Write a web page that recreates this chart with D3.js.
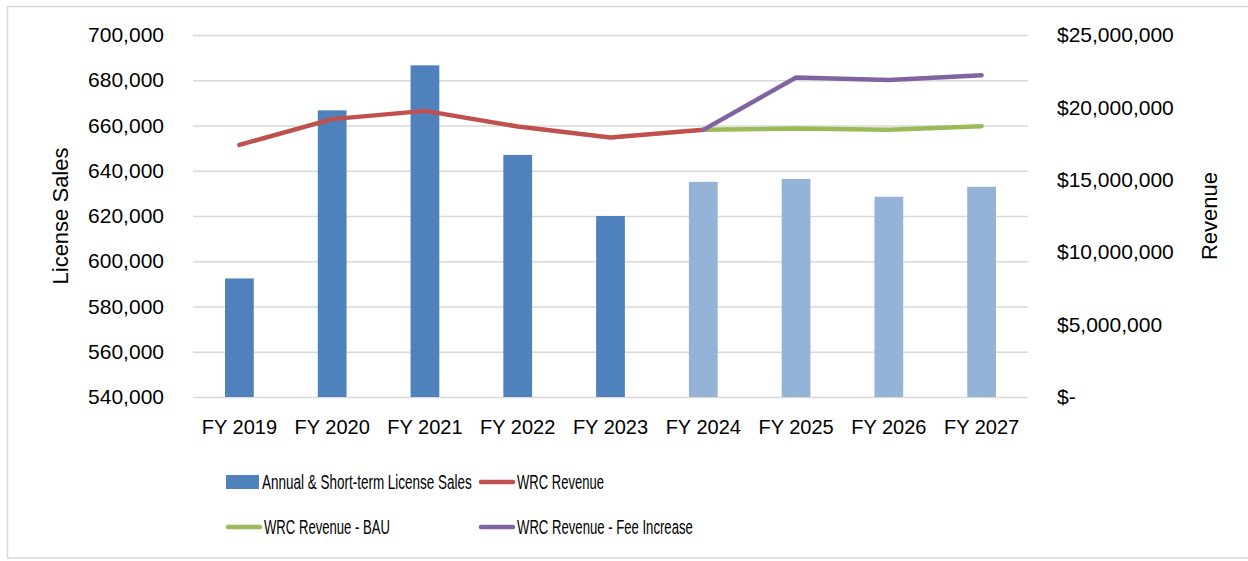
<!DOCTYPE html>
<html>
<head>
<meta charset="utf-8">
<script src="https://cdn.jsdelivr.net/npm/d3@7"></script>
<style>
  body { margin: 0; background: #fff; }
  svg { display: block; font-family: "Liberation Sans", Arial, sans-serif; }
</style>
</head>
<body>
<div id="chart"></div>
<script>
// Data
const years = ["FY 2019", "FY 2020", "FY 2021", "FY 2022", "FY 2023", "FY 2024", "FY 2025", "FY 2026", "FY 2027"];
const licenseSales = [592400, 666700, 686600, 647000, 620000, 635100, 636400, 628500, 632900];
const projected = [false, false, false, false, false, true, true, true, true];

const wrcYears = ["FY 2019", "FY 2020", "FY 2021", "FY 2022", "FY 2023", "FY 2024"];
const wrcRevenue = [17410000, 19190000, 19760000, 18680000, 17920000, 18450000];

const scenarioYears = ["FY 2024", "FY 2025", "FY 2026", "FY 2027"];
const bauRevenue = [18450000, 18540000, 18450000, 18700000];
const feeRevenue = [18450000, 22060000, 21900000, 22220000];

const leftTicks = [540000, 560000, 580000, 600000, 620000, 640000, 660000, 680000, 700000];
const rightTicks = [0, 5000000, 10000000, 15000000, 20000000, 25000000];

const colors = {
    bar: "#4F81BD",
    barLight: "#95B3D7",
    wrc: "#C0504D",
    bau: "#9BBB59",
    fee: "#8064A2",
    grid: "#D9D9D9"
};

const W = 1248, H = 561;
const margin = {top: 35, right: 220, bottom: 164, left: 193};
const width = 1028 - margin.left,
    height = 397 - margin.top;

const svg = d3.select("#chart")
    .append("svg")
    .attr("width", W)
    .attr("height", H);

// outer chart border
svg.append("rect")
    .attr("x", 7.5).attr("y", 6.5)
    .attr("width", W).attr("height", 551.5)
    .attr("fill", "none")
    .attr("stroke", colors.grid)
    .attr("stroke-width", 1.5);

const g = svg.append("g")
    .attr("transform", `translate(${margin.left},${margin.top})`);

// scales
const x = d3.scaleBand()
    .domain(years)
    .range([0, width])
    .paddingInner(0.69)
    .paddingOuter(0.345);

const yLeft = d3.scaleLinear()
    .domain([540000, 700000])
    .range([height, 0]);

const yRight = d3.scaleLinear()
    .domain([0, 25000000])
    .range([height, 0]);

const cx = d => x(d) + x.bandwidth() / 2;

// gridlines
g.append("g")
    .call(d3.axisLeft(yLeft).tickValues(leftTicks).tickSize(-width).tickFormat(""))
    .call(a => a.select(".domain").remove())
    .call(a => a.selectAll("line").attr("stroke", colors.grid).attr("stroke-width", 1.5));

// left axis labels
g.append("g")
    .call(d3.axisLeft(yLeft).tickValues(leftTicks).tickSize(0).tickPadding(29).tickFormat(d3.format(",")))
    .call(a => a.select(".domain").remove())
    .call(a => a.selectAll("text").attr("font-size", 21).attr("fill", "#000").attr("font-family", null));

// right axis labels
const moneyFmt = d => d === 0 ? "$-" : "$" + d3.format(",")(d);
g.append("g")
    .attr("transform", `translate(${width},0)`)
    .call(d3.axisRight(yRight).tickValues(rightTicks).tickSize(0).tickPadding(29).tickFormat(moneyFmt))
    .call(a => a.select(".domain").remove())
    .call(a => a.selectAll("text").attr("font-size", 21).attr("fill", "#000").attr("font-family", null));

// x axis labels
g.append("g")
    .attr("transform", `translate(0,${height})`)
    .call(d3.axisBottom(x).tickSize(0).tickPadding(23))
    .call(a => a.select(".domain").remove())
    .call(a => a.selectAll("text").attr("font-size", 20).attr("fill", "#000").attr("font-family", null));

// bars
g.selectAll("rect.bar")
    .data(years)
    .enter()
    .append("rect")
    .attr("class", "bar")
    .attr("x", d => x(d))
    .attr("width", x.bandwidth())
    .attr("y", (d, i) => yLeft(licenseSales[i]))
    .attr("height", (d, i) => height - yLeft(licenseSales[i]))
    .attr("fill", (d, i) => projected[i] ? colors.barLight : colors.bar);

// lines
const line = d3.line()
    .x(d => cx(d[0]))
    .y(d => yRight(d[1]));

const series = [
    {cats: wrcYears, vals: wrcRevenue, color: colors.wrc},
    {cats: scenarioYears, vals: bauRevenue, color: colors.bau},
    {cats: scenarioYears, vals: feeRevenue, color: colors.fee}
];

series.forEach(s => {
    g.append("path")
        .datum(s.cats.map((c, i) => [c, s.vals[i]]))
        .attr("d", line)
        .attr("fill", "none")
        .attr("stroke", s.color)
        .attr("stroke-width", 4.5)
        .attr("stroke-linejoin", "round")
        .attr("stroke-linecap", "round");
});

// axis titles
svg.append("text")
    .attr("transform", `translate(68,${margin.top + height / 2}) rotate(-90)`)
    .attr("text-anchor", "middle")
    .attr("font-size", 22)
    .text("License Sales");

svg.append("text")
    .attr("transform", `translate(1217,${margin.top + height / 2}) rotate(-90)`)
    .attr("text-anchor", "middle")
    .attr("font-size", 22)
    .text("Revenue");

// legend (text squeezed horizontally like the reference)
const legendItems = [
    {label: "Annual & Short-term License Sales", type: "bar", color: colors.bar, x: 226, y: 482, w: 210},
    {label: "WRC Revenue", type: "line", color: colors.wrc, x: 479, y: 482, w: 87},
    {label: "WRC Revenue - BAU", type: "line", color: colors.bau, x: 226, y: 527, w: 126},
    {label: "WRC Revenue - Fee Increase", type: "line", color: colors.fee, x: 479, y: 527, w: 176}
];

const legend = svg.append("g").attr("class", "legend");
const item = legend.selectAll("g")
    .data(legendItems)
    .enter()
    .append("g")
    .attr("transform", d => `translate(${d.x},${d.y})`);

item.filter(d => d.type === "bar")
    .append("rect")
    .attr("x", 0).attr("y", -7)
    .attr("width", 33).attr("height", 14)
    .attr("fill", d => d.color);

item.filter(d => d.type === "line")
    .append("line")
    .attr("x1", 2).attr("x2", 34)
    .attr("stroke", d => d.color)
    .attr("stroke-width", 4.5)
    .attr("stroke-linecap", "round");

item.append("text")
    .attr("dy", "0.36em")
    .attr("font-size", 19.5)
    .text(d => d.label)
    .attr("transform", function(d) {
        const sx = d.w / this.getComputedTextLength();
        const tx = d.type === "bar" ? 36 : 38;
        return `translate(${tx},0) scale(${sx},1)`;
    });
</script>
</body>
</html>
